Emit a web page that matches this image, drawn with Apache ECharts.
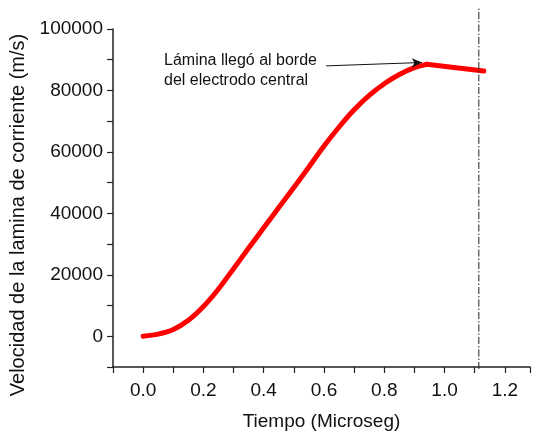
<!DOCTYPE html>
<html>
<head>
<meta charset="utf-8">
<script src="https://cdn.jsdelivr.net/npm/echarts@6/dist/echarts.min.js"></script>
<style>
  html, body { margin: 0; padding: 0; background: #fff; }
  #chart { width: 533px; height: 436px; }
</style>
</head>
<body>
<div id="chart"></div>
<script>
// tiempo (microseg) y velocidad (m/s) leidos de la figura
// tramo de aceleracion (curva suave)
const tiempoSubida = [0, 0.05, 0.1, 0.15, 0.2, 0.25, 0.3, 0.35, 0.4, 0.45, 0.5, 0.55, 0.6, 0.65, 0.7, 0.75, 0.8, 0.85, 0.9, 0.94]
const velocidadSubida = [0, 700, 2200, 5200, 9700, 15400, 22000, 28700, 35300, 41900, 48400, 55100, 61900, 68100, 73700, 78400, 82200, 85200, 87400, 88500]
// tramo recto despues del borde
const tiempoBajada = [0.94, 1.13]
const velocidadBajada = [88500, 86300]

// borde del electrodo central (linea punto-raya)
const bordeElectrodo = 1.105

// flecha de la anotacion: [tiempo, velocidad]
const flechaDesde = [0.607, 88000]
const flechaHasta = [0.925, 89100]
const notaTexto = 'Lámina llegó al borde\ndel electrodo central'

const font = 'Liberation Sans'
const xMin = -0.1
const xMax = 1.2834

const subida = tiempoSubida.map((t, i) => [t, velocidadSubida[i]])
const bajada = tiempoBajada.map((t, i) => [t, velocidadBajada[i]])
const rojo = { color: '#ff0000', width: 5, join: 'round', cap: 'round' }

const myChart = echarts.init(document.getElementById('chart'))
myChart.setOption({
  animation: false,
  textStyle: { fontFamily: font },
  grid: [
    { left: 113, right: 0, top: 29, bottom: 67 },
    // solo para la linea vertical, que sube hasta arriba del todo
    { left: 113, right: 0, top: 8, bottom: 67 }
  ],
  xAxis: [
    {
      type: 'value',
      min: xMin,
      max: xMax,
      interval: 0.1,
      name: 'Tiempo (Microseg)',
      nameLocation: 'middle',
      nameGap: 45,
      nameTextStyle: { fontSize: 19, color: '#111', fontFamily: font },
      axisLine: { onZero: false, lineStyle: { color: '#222', width: 1.5 } },
      axisTick: { length: 6, lineStyle: { color: '#222', width: 1.2 } },
      axisLabel: {
        fontSize: 19,
        color: '#111',
        margin: 14,
        formatter: v => {
          const k = Math.round(v * 10)
          return (Math.abs(v * 10 - k) < 1e-6 && k % 2 === 0 && k >= 0 && k <= 12) ? (k / 10).toFixed(1) : ''
        }
      },
      splitLine: { show: false }
    },
    {
      type: 'value', gridIndex: 1, min: xMin, max: xMax,
      show: false
    }
  ],
  yAxis: [
    {
      type: 'value',
      min: -10000,
      max: 100000,
      interval: 10000,
      name: 'Velocidad de la lamina de corriente (m/s)',
      nameLocation: 'middle',
      nameGap: 74,
      nameTextStyle: { fontSize: 20, color: '#111', fontFamily: font, padding: [0, 34, 0, 0] },
      axisLine: { show: true, onZero: false, lineStyle: { color: '#222', width: 1.5 } },
      axisTick: { show: true, length: 6, lineStyle: { color: '#222', width: 1.2 } },
      axisLabel: {
        fontSize: 19,
        color: '#111',
        margin: 10,
        formatter: v => (v >= 0 && v % 20000 === 0) ? String(v) : ''
      },
      splitLine: { show: false }
    },
    {
      type: 'value', gridIndex: 1, min: 0, max: 1,
      show: false
    }
  ],
  series: [
    {
      type: 'line',
      data: subida,
      smooth: 0.3,
      symbol: 'none',
      lineStyle: rojo,
      markLine: {
        silent: true,
        symbol: ['none', 'arrow'],
        symbolSize: [7, 10],
        label: { show: false },
        lineStyle: { color: '#111', width: 1, type: 'solid' },
        data: [[{ coord: flechaDesde }, { coord: flechaHasta }]]
      }
    },
    {
      type: 'line',
      data: bajada,
      symbol: 'none',
      lineStyle: rojo
    },
    {
      type: 'line',
      xAxisIndex: 1,
      yAxisIndex: 1,
      data: [[bordeElectrodo, 0], [bordeElectrodo, 1]],
      symbol: 'none',
      lineStyle: { color: '#222', width: 1, type: [7, 2, 1.5, 2] }
    }
  ],
  graphic: [
    {
      type: 'text',
      left: 164,
      top: 51,
      style: {
        text: notaTexto,
        font: '16px "Liberation Sans"',
        fill: '#111',
        lineHeight: 20
      }
    }
  ]
})
</script>
</body>
</html>
